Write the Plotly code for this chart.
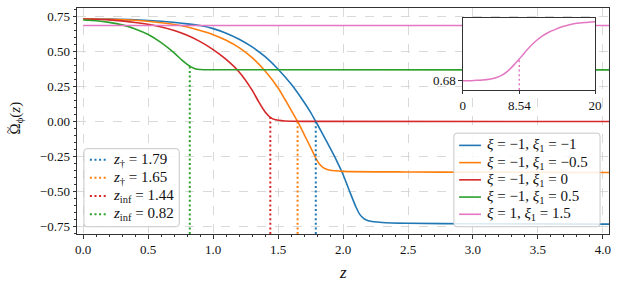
import plotly.graph_objects as go

# ---------------- data ----------------
z_blue = [0.0, 0.2, 0.4, 0.6, 0.8, 0.9, 1.0, 1.1, 1.2, 1.3, 1.4, 1.5, 1.6, 1.7, 1.75, 1.79,
          1.84, 1.9, 1.95, 2.0, 2.05, 2.1, 2.13, 2.16, 2.2, 2.3, 2.5, 3.0, 4.05]
om_blue = [0.735, 0.734, 0.730, 0.719, 0.700, 0.688, 0.666, 0.633, 0.590, 0.535, 0.465, 0.375,
           0.268, 0.138, 0.066, 0.0, -0.085, -0.19, -0.28, -0.38, -0.50, -0.615, -0.668, -0.697,
           -0.714, -0.724, -0.730, -0.734, -0.736]

z_orange = [0.0, 0.2, 0.4, 0.6, 0.75, 0.9, 1.0, 1.1, 1.2, 1.3, 1.4, 1.5, 1.55, 1.6, 1.65, 1.7,
            1.75, 1.79, 1.82, 1.85, 1.9, 2.0, 2.5, 3.0, 4.05]
om_orange = [0.735, 0.733, 0.726, 0.708, 0.688, 0.652, 0.623, 0.583, 0.530, 0.458, 0.362, 0.240,
             0.163, 0.082, 0.0, -0.092, -0.185, -0.262, -0.307, -0.333, -0.350, -0.358, -0.362,
             -0.364, -0.366]

z_red = [0.0, 0.2, 0.4, 0.55, 0.7, 0.8, 0.9, 1.0, 1.1, 1.2, 1.3, 1.35, 1.4, 1.44, 1.48, 1.55, 1.7, 4.05]
om_red = [0.735, 0.729, 0.710, 0.688, 0.652, 0.618, 0.573, 0.516, 0.445, 0.355, 0.225, 0.142,
          0.068, 0.030, 0.012, 0.004, 0.001, 0.0]

z_green = [0.0, 0.1, 0.2, 0.3, 0.4, 0.5, 0.6, 0.7, 0.76, 0.8, 0.83, 0.86, 0.9, 1.0, 4.05]
om_green = [0.728, 0.723, 0.711, 0.693, 0.664, 0.624, 0.566, 0.492, 0.440, 0.410, 0.392, 0.379,
            0.373, 0.371, 0.370]

z_pink = [0.0, 1.0, 2.0, 3.0, 4.05]
om_pink = [0.688, 0.688, 0.688, 0.688, 0.688]

series_names = ["<i>ξ</i> = −1, <i>ξ</i><sub>1</sub> = −1",
                "<i>ξ</i> = −1, <i>ξ</i><sub>1</sub> = −0.5",
                "<i>ξ</i> = −1, <i>ξ</i><sub>1</sub> = 0",
                "<i>ξ</i> = −1, <i>ξ</i><sub>1</sub> = 0.5",
                "<i>ξ</i> = 1, <i>ξ</i><sub>1</sub> = 1.5"]
series_colors = ["#1f77b4", "#ff7f0e", "#d62728", "#2ca02c", "#e377c2"]

crit_z = [1.79, 1.65, 1.44, 0.82]
crit_top = [0.0, 0.0, 0.03, 0.40]
crit_names = ["<i>z</i><sub>†</sub> = 1.79", "<i>z</i><sub>†</sub> = 1.65",
              "<i>z</i><sub>inf</sub> = 1.44", "<i>z</i><sub>inf</sub> = 0.82"]
crit_colors = ["#1f77b4", "#ff7f0e", "#d62728", "#2ca02c"]

# inset (pink curve over a longer range)
z_inset = [0, 1, 2, 3, 4, 5, 6, 7, 8, 8.54, 9, 10, 11, 12, 13, 14, 15, 16, 17, 18, 19, 20]
om_inset = [0.6800, 0.6800, 0.6801, 0.6802, 0.6804, 0.6808, 0.6816, 0.6830, 0.6849, 0.6860,
            0.6870, 0.6891, 0.6909, 0.6923, 0.6934, 0.6942, 0.6949, 0.6954, 0.6958, 0.6960,
            0.6962, 0.6963]
inset_crit_z = 8.54
inset_crit_top = 0.6860
inset_xticks = [0, 8.54, 20]
inset_xticklabels = ["0", "8.54", "20"]
inset_yticks = [0.68]
inset_yticklabels = ["0.68"]

x_range = [-0.048, 4.047]
y_range = [-0.807, 0.814]
inset_x_range = [0, 20]
inset_y_range = [0.67744, 0.69744]

# ---------------- figure ----------------
FONT = "'Liberation Serif', 'DejaVu Serif', serif"
AXC = "#333333"
TXT = "#111111"
DOT = "2px,2.6px"
W, H = 623, 286
ML, MR, MT, MB = 77, 10, 7, 52
PW, PH = W - ML - MR, H - MT - MB


def px_x(x):
    return (x - ML) / PW


def px_y(y):
    return (H - MB - y) / PH


def rounded_box(x0, y0, x1, y1, r=3):
    a, b = px_x(x0), px_x(x1)
    top, bot = px_y(y0), px_y(y1)
    rx, ry = r / PW, r / PH
    return (f"M{a+rx},{top} L{b-rx},{top} Q{b},{top} {b},{top-ry} L{b},{bot+ry} "
            f"Q{b},{bot} {b-rx},{bot} L{a+rx},{bot} Q{a},{bot} {a},{bot+ry} "
            f"L{a},{top-ry} Q{a},{top} {a+rx},{top} Z")


fig = go.Figure()

curves = [(z_blue, om_blue), (z_orange, om_orange), (z_red, om_red), (z_green, om_green), (z_pink, om_pink)]
for (zz, oo), name, col in zip(curves, series_names, series_colors):
    fig.add_trace(go.Scatter(x=zz, y=oo, mode="lines", name=name, showlegend=False,
                             line=dict(color=col, width=1.6, shape="spline", smoothing=0.6)))

for cz, ct, name, col in zip(crit_z, crit_top, crit_names, crit_colors):
    fig.add_trace(go.Scatter(x=[cz, cz], y=[y_range[0], ct], mode="lines", name=name, showlegend=False,
                             line=dict(color=col, width=2, dash=DOT)))

fig.add_trace(go.Scatter(x=z_inset, y=om_inset, mode="lines", showlegend=False,
                         line=dict(color=series_colors[4], width=1.5, shape="spline"),
                         xaxis="x2", yaxis="y2"))
fig.add_trace(go.Scatter(x=[inset_crit_z, inset_crit_z], y=[inset_y_range[0], inset_crit_top],
                         mode="lines", showlegend=False,
                         line=dict(color=series_colors[4], width=1.5, dash=DOT),
                         xaxis="x2", yaxis="y2"))

# ---- legends drawn as boxes + samples + text (matplotlib-style compact spacing) ----
shapes = []
annotations = []


def add_legend(box, sample_x, text_x, rows, names, colors, dash, font_size):
    shapes.append(dict(type="path", xref="paper", yref="paper", path=rounded_box(*box),
                       fillcolor="rgba(255,255,255,0.85)", line=dict(color="#c8c8c8", width=1),
                       layer="above"))
    for ry, name, col in zip(rows, names, colors):
        shapes.append(dict(type="line", xref="paper", yref="paper",
                           x0=px_x(sample_x[0]), x1=px_x(sample_x[1]), y0=px_y(ry), y1=px_y(ry),
                           line=dict(color=col, width=2 if dash else 1.6, dash=dash or "solid"),
                           layer="above"))
        annotations.append(dict(text=name, xref="paper", yref="paper", x=px_x(text_x), y=px_y(ry),
                                xanchor="left", yanchor="middle", showarrow=False,
                                font=dict(family=FONT, size=font_size, color=TXT)))


add_legend((456.7, 132.7, 604, 226.7), (462, 484), 488, [145, 162.3, 179.6, 196.9, 214.2],
           series_names, series_colors, None, 15)
add_legend((84, 148.3, 180, 226.7), (90, 108), 111, [159.3, 177.6, 195.9, 214.2],
           crit_names, crit_colors, DOT, 15)

annotations += [
    dict(text="<i>z</i>", xref="paper", yref="paper", x=0.5, y=px_y(273),
         xanchor="center", yanchor="middle", showarrow=False,
         font=dict(family=FONT, size=17, color=TXT)),
    dict(text="Ω<sub>ϕ</sub>(<i>z</i>)", xref="paper", yref="paper", x=px_x(15), y=px_y(136),
         xanchor="center", yanchor="bottom", textangle=-90, showarrow=False,
         font=dict(family=FONT, size=15, color=TXT)),
    dict(text="~", xref="paper", yref="paper", x=px_x(8), y=px_y(130),
         xanchor="center", yanchor="middle", textangle=-90, showarrow=False,
         font=dict(family=FONT, size=13, color=TXT)),
]

common_axis = dict(showline=True, mirror=True, linecolor=AXC, linewidth=1, ticks="outside",
                   ticklen=3.5, tickwidth=0.8, tickcolor=AXC, zeroline=False,
                   tickfont=dict(family=FONT, size=13, color=TXT))

fig.update_layout(
    width=W, height=H,
    margin=dict(l=ML, r=MR, t=MT, b=MB),
    paper_bgcolor="white", plot_bgcolor="white",
    font=dict(family=FONT, size=13, color=TXT),
    showlegend=False,
    xaxis=dict(range=x_range, domain=[0, 1], tick0=0, dtick=0.5, tickformat=".1f",
               showgrid=True, gridcolor="#d9d9d9", gridwidth=0.8, griddash="dash",
               minor=dict(ticks="outside", ticklen=2, tickwidth=0.6, tickcolor=AXC, dtick=0.1, tick0=0,
                          showgrid=False),
               **common_axis),
    yaxis=dict(range=y_range, domain=[0, 1], tick0=0, dtick=0.25, tickformat=".2f",
               showgrid=True, gridcolor="#d9d9d9", gridwidth=0.8, griddash="dash",
               minor=dict(ticks="outside", ticklen=2, tickwidth=0.6, tickcolor=AXC, dtick=0.05, tick0=0,
                          showgrid=False),
               **common_axis),
    xaxis2=dict(range=inset_x_range, domain=[px_x(465.7), px_x(599)], anchor="y2",
                tickmode="array", tickvals=inset_xticks, ticktext=inset_xticklabels,
                showgrid=False, **common_axis),
    yaxis2=dict(range=inset_y_range, domain=[px_y(89.3), px_y(16.7)], anchor="x2",
                tickmode="array", tickvals=inset_yticks, ticktext=inset_yticklabels,
                showgrid=False, **common_axis),
    shapes=shapes,
    annotations=annotations,
)

fig.write_html("out.html", config={"displayModeBar": False},
               post_script="document.body.style.margin='0px';")
